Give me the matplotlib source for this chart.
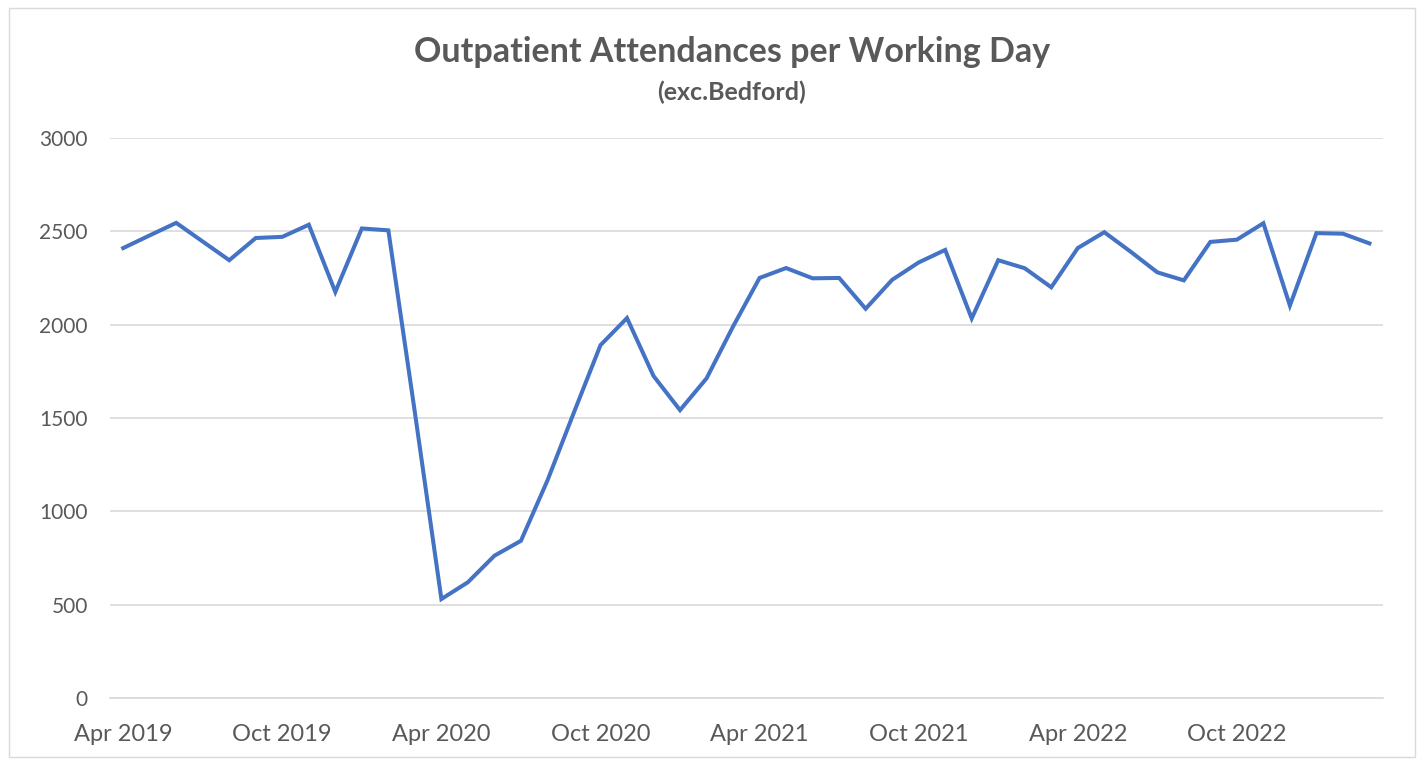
import matplotlib.pyplot as plt
from matplotlib.patches import Rectangle

# monthly values, Apr 2019 .. Mar 2023
months = ['Apr 2019', 'May 2019', 'Jun 2019', 'Jul 2019', 'Aug 2019', 'Sep 2019',
          'Oct 2019', 'Nov 2019', 'Dec 2019', 'Jan 2020', 'Feb 2020', 'Mar 2020',
          'Apr 2020', 'May 2020', 'Jun 2020', 'Jul 2020', 'Aug 2020', 'Sep 2020',
          'Oct 2020', 'Nov 2020', 'Dec 2020', 'Jan 2021', 'Feb 2021', 'Mar 2021',
          'Apr 2021', 'May 2021', 'Jun 2021', 'Jul 2021', 'Aug 2021', 'Sep 2021',
          'Oct 2021', 'Nov 2021', 'Dec 2021', 'Jan 2022', 'Feb 2022', 'Mar 2022',
          'Apr 2022', 'May 2022', 'Jun 2022', 'Jul 2022', 'Aug 2022', 'Sep 2022',
          'Oct 2022', 'Nov 2022', 'Dec 2022', 'Jan 2023', 'Feb 2023', 'Mar 2023']
attendances = [2410, 2478, 2545, 2445, 2345, 2464, 2470, 2535, 2175, 2515, 2505, 1530,
               530, 620, 762, 842, 1165, 1530, 1890, 2035, 1725, 1542, 1712, 1990,
               2250, 2303, 2248, 2250, 2085, 2240, 2333, 2400, 2033, 2345, 2302, 2200,
               2410, 2495, 2390, 2280, 2237, 2443, 2455, 2543, 2102, 2490, 2487, 2435]
tick_labels = ['Apr 2019', 'Oct 2019', 'Apr 2020', 'Oct 2020',
               'Apr 2021', 'Oct 2021', 'Apr 2022', 'Oct 2022']

plt.rcParams['font.family'] = ['Lato', 'DejaVu Sans']
grey = '#595959'

fig = plt.figure(figsize=(14.24, 7.62), dpi=100)
ax = fig.add_axes([0.0772, 0.084, 0.8938, 0.735])

x = list(range(len(months)))
ax.plot(x, attendances, color='#4472c4', linewidth=2.9, solid_joinstyle='miter')

ax.set_xlim(-0.5, len(months) - 0.5)
ax.set_ylim(0, 3000)
ax.set_yticks(range(0, 3001, 500))
ax.set_xticks([months.index(t) for t in tick_labels])
ax.set_xticklabels(tick_labels)

ax.grid(axis='y', color='#d9d9d9', linewidth=1.2)
ax.set_axisbelow(True)
for s in ['top', 'right', 'left']:
    ax.spines[s].set_visible(False)
ax.spines['bottom'].set_color('#d9d9d9')
ax.spines['bottom'].set_linewidth(1.2)
ax.tick_params(axis='both', length=0, colors=grey)
ax.tick_params(axis='y', pad=16, labelsize=15)
ax.tick_params(axis='x', pad=19, labelsize=17)

fig.text(0.514, 0.932, 'Outpatient Attendances per Working Day',
         ha='center', va='center', fontsize=24.5, fontweight='bold', color=grey)
fig.text(0.514, 0.879, '(exc.Bedford)', ha='center', va='center',
         fontsize=18, fontweight='bold', color=grey)

fig.patches.append(Rectangle((0.006, 0.006), 0.988, 0.984, transform=fig.transFigure,
                             fill=False, edgecolor='#d9d9d9', linewidth=1))

fig.savefig('out.png', dpi=100, facecolor='white')
